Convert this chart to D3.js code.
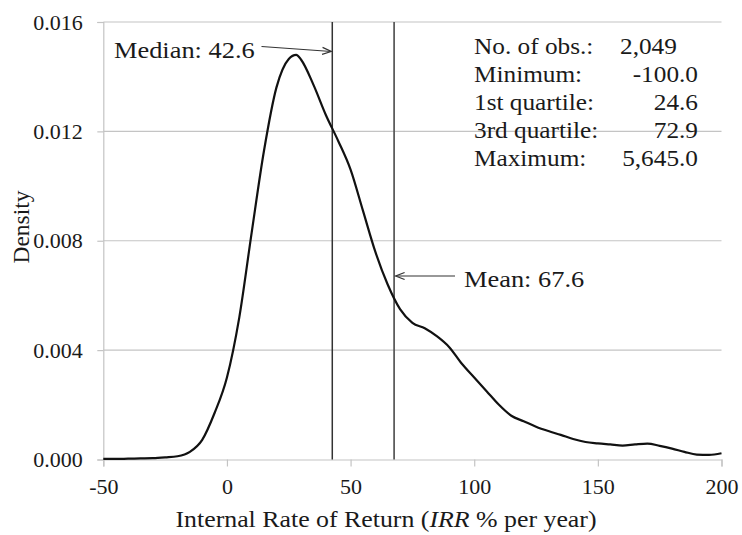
<!DOCTYPE html>
<html>
<head>
<meta charset="utf-8">
<script src="https://cdn.jsdelivr.net/npm/d3@7/dist/d3.min.js"></script>
<style>
  html, body { margin: 0; padding: 0; background: #fff; }
  svg { display: block; }
  text { font-family: "Liberation Serif", "Times New Roman", serif; fill: #1a1a1a; }
</style>
</head>
<body>
<svg id="chart" width="742" height="535"></svg>
<script>
// Kernel density estimate of IRR (% per year)
const irrGrid = [-50, -45, -40, -35, -30, -25, -20, -15, -10, -5, 0, 5, 10, 15, 20, 25, 28, 30, 35, 40, 45, 50,
  55, 60, 65, 70, 75, 80, 85, 90, 95, 100, 105, 110, 115, 120, 125, 130, 135, 140, 145, 150,
  155, 160, 165, 170, 175, 180, 185, 190, 195, 200];
const density = [0.00002, 0.00002, 0.00003, 0.00004, 0.00005, 0.00008, 0.00012, 0.00028, 0.00072, 0.0017,
  0.0030, 0.0052, 0.0083, 0.0113, 0.0136, 0.01465, 0.0148, 0.01462, 0.0137, 0.0126, 0.01165, 0.0106,
  0.0091, 0.0076, 0.0064, 0.0055, 0.0050, 0.0048, 0.0045, 0.0041, 0.0035, 0.0030, 0.0025, 0.0020,
  0.0016, 0.0014, 0.0012, 0.00104, 0.0009, 0.00075, 0.00064, 0.00059, 0.00055, 0.00051, 0.00055,
  0.00058, 0.0005, 0.0004, 0.00028, 0.00018, 0.00017, 0.00023];

const xTicks = [-50, 0, 50, 100, 150, 200];
const xTickLabels = ["-50", "0", "50", "100", "150", "200"];
const yTicks = [0, 0.004, 0.008, 0.012, 0.016];
const yTickLabels = ["0.000", "0.004", "0.008", "0.012", "0.016"];

const medianValue = 42.6;
const meanValue = 67.6;

const statLabels = ["No. of obs.:", "Minimum:", "1st quartile:", "3rd quartile:", "Maximum:"];
const statValues = ["2,049", "-100.0", "24.6", "72.9", "5,645.0"];

// text is set slightly wide, as in the original layout
const SX = 1.1;
const FONT = "'Liberation Serif', 'Times New Roman', serif";
const svg = d3.select("#chart");

const x = d3.scaleLinear().domain([-50, 200]).range([103.3, 721.5]);
const y = d3.scaleLinear().domain([0, 0.016]).range([459.5, 22]);

const gridColor = "#c4c4c4";

// horizontal gridlines
svg.append("g")
  .selectAll("line")
  .data(yTicks.filter(d => d > 0))
  .join("line")
  .attr("x1", x(-50)).attr("x2", x(200))
  .attr("y1", d => y(d)).attr("y2", d => y(d))
  .attr("stroke", gridColor).attr("stroke-width", 1.2);

// y axis
const yAxis = svg.append("g")
  .attr("transform", `translate(${x(-50)},0)`)
  .call(d3.axisLeft(y).tickValues(yTicks).tickSize(6).tickFormat((d, i) => yTickLabels[i]));
yAxis.attr("font-family", null);
yAxis.select(".domain").attr("stroke", gridColor).attr("stroke-width", 1.2);
yAxis.selectAll(".tick line").attr("stroke", gridColor).attr("stroke-width", 1.2);
yAxis.selectAll(".tick text")
  .attr("x", 0).attr("dy", null).attr("y", 0)
  .attr("transform", `translate(-20.5,7) scale(${SX},1)`)
  .attr("font-size", 20).attr("fill", "#1a1a1a")
  .style("font-family", FONT);

// x axis
const xAxis = svg.append("g")
  .attr("transform", `translate(0,${y(0)})`)
  .call(d3.axisBottom(x).tickValues(xTicks).tickSize(7).tickFormat((d, i) => xTickLabels[i]));
xAxis.attr("font-family", null);
xAxis.select(".domain").attr("stroke", gridColor).attr("stroke-width", 1.2);
xAxis.selectAll(".tick line").attr("stroke", gridColor).attr("stroke-width", 1.2);
xAxis.selectAll(".tick text")
  .attr("y", 0).attr("dy", null)
  .attr("transform", `translate(0,34.5) scale(${SX},1)`)
  .attr("font-size", 20).attr("fill", "#1a1a1a")
  .style("font-family", FONT);

// median and mean lines
svg.append("line")
  .attr("x1", x(medianValue)).attr("x2", x(medianValue))
  .attr("y1", y(0.016)).attr("y2", y(0))
  .attr("stroke", "#333").attr("stroke-width", 1.5);
svg.append("line")
  .attr("x1", x(meanValue)).attr("x2", x(meanValue))
  .attr("y1", y(0.016)).attr("y2", y(0))
  .attr("stroke", "#555").attr("stroke-width", 1.7);

// density curve
const line = d3.line()
  .x((d, i) => x(irrGrid[i]))
  .y(d => y(d))
  .curve(d3.curveMonotoneX);
svg.append("path")
  .datum(density)
  .attr("d", line)
  .attr("fill", "none")
  .attr("stroke", "#111")
  .attr("stroke-width", 2.2)
  .attr("stroke-linejoin", "round");

// open arrowhead
svg.append("defs").append("marker")
  .attr("id", "arrow")
  .attr("viewBox", "-10 -6 12 12")
  .attr("refX", 0).attr("refY", 0)
  .attr("markerWidth", 12).attr("markerHeight", 12)
  .attr("markerUnits", "userSpaceOnUse")
  .attr("orient", "auto")
  .append("path")
  .attr("d", "M-9,-3.5 L0,0 L-9,3.5")
  .attr("fill", "none")
  .attr("stroke", "#333")
  .attr("stroke-width", 1.2);

// median annotation
svg.append("text")
  .attr("transform", `translate(114,58) scale(${SX},1)`)
  .attr("font-size", 24)
  .text("Median: " + medianValue.toFixed(1));
svg.append("line")
  .attr("x1", 261.5).attr("y1", 46.5)
  .attr("x2", x(medianValue) - 1).attr("y2", 51.5)
  .attr("stroke", "#333").attr("stroke-width", 1.2)
  .attr("marker-end", "url(#arrow)");

// mean annotation
svg.append("text")
  .attr("transform", `translate(464,287) scale(${SX},1)`)
  .attr("font-size", 24)
  .text("Mean: " + meanValue.toFixed(1));
svg.append("line")
  .attr("x1", 455).attr("y1", 276)
  .attr("x2", x(meanValue) + 1.5).attr("y2", 276)
  .attr("stroke", "#333").attr("stroke-width", 1.2)
  .attr("marker-end", "url(#arrow)");

// summary statistics
const stats = svg.append("g");
statLabels.forEach((lab, i) => {
  const by = 54 + i * 28;
  stats.append("text")
    .attr("transform", `translate(474,${by}) scale(${SX},1)`)
    .attr("font-size", 23)
    .text(lab);
  stats.append("text")
    .attr("transform", i === 0 ? `translate(620,${by}) scale(${SX},1)` : `translate(698,${by}) scale(${SX},1)`)
    .attr("text-anchor", i === 0 ? "start" : "end")
    .attr("font-size", 23)
    .text(statValues[i]);
});

// axis titles
const xTitle = svg.append("text")
  .attr("transform", `translate(386,527) scale(${SX},1)`)
  .attr("text-anchor", "middle")
  .attr("font-size", 23.5);
xTitle.append("tspan").text("Internal Rate of Return (");
xTitle.append("tspan").attr("font-style", "italic").text("IRR");
xTitle.append("tspan").text(" % per year)");

svg.append("text")
  .attr("transform", "translate(29,227) rotate(-90)")
  .attr("text-anchor", "middle")
  .attr("font-size", 23.5)
  .text("Density");
</script>
</body>
</html>
